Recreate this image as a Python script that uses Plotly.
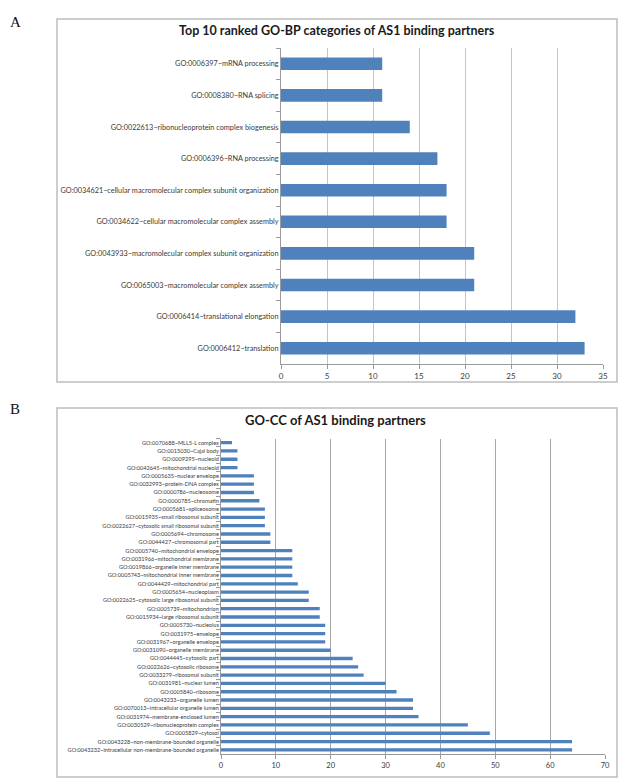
import plotly.graph_objects as go

W, H = 632, 782

# ---------------- data ----------------
bp_terms = [
    "GO:0006397~mRNA processing",
    "GO:0008380~RNA splicing",
    "GO:0022613~ribonucleoprotein complex biogenesis",
    "GO:0006396~RNA processing",
    "GO:0034621~cellular macromolecular complex subunit organization",
    "GO:0034622~cellular macromolecular complex assembly",
    "GO:0043933~macromolecular complex subunit organization",
    "GO:0065003~macromolecular complex assembly",
    "GO:0006414~translational elongation",
    "GO:0006412~translation",
]
bp_counts = [11, 11, 14, 17, 18, 18, 21, 21, 32, 33]

cc_terms = [
    "GO:0070688~MLL5-L complex",
    "GO:0015030~Cajal body",
    "GO:0009295~nucleoid",
    "GO:0042645~mitochondrial nucleoid",
    "GO:0005635~nuclear envelope",
    "GO:0032993~protein-DNA complex",
    "GO:0000786~nucleosome",
    "GO:0000785~chromatin",
    "GO:0005681~spliceosome",
    "GO:0015935~small ribosomal subunit",
    "GO:0022627~cytosolic small ribosomal subunit",
    "GO:0005694~chromosome",
    "GO:0044427~chromosomal part",
    "GO:0005740~mitochondrial envelope",
    "GO:0031966~mitochondrial membrane",
    "GO:0019866~organelle inner membrane",
    "GO:0005743~mitochondrial inner membrane",
    "GO:0044429~mitochondrial part",
    "GO:0005654~nucleoplasm",
    "GO:0022625~cytosolic large ribosomal subunit",
    "GO:0005739~mitochondrion",
    "GO:0015934~large ribosomal subunit",
    "GO:0005730~nucleolus",
    "GO:0031975~envelope",
    "GO:0031967~organelle envelope",
    "GO:0031090~organelle membrane",
    "GO:0044445~cytosolic part",
    "GO:0022626~cytosolic ribosome",
    "GO:0033279~ribosomal subunit",
    "GO:0031981~nuclear lumen",
    "GO:0005840~ribosome",
    "GO:0043233~organelle lumen",
    "GO:0070013~intracellular organelle lumen",
    "GO:0031974~membrane-enclosed lumen",
    "GO:0030529~ribonucleoprotein complex",
    "GO:0005829~cytosol",
    "GO:0043228~non-membrane-bounded organelle",
    "GO:0043232~intracellular non-membrane-bounded organelle",
]
cc_counts = [2, 3, 3, 3, 6, 6, 6, 7, 8, 8, 8, 9, 9, 13, 13, 13, 13, 14, 16, 16,
             18, 18, 19, 19, 19, 20, 24, 25, 26, 30, 32, 35, 35, 36, 45, 49, 64, 64]

bp_ticks = [0, 5, 10, 15, 20, 25, 30, 35]
cc_ticks = [0, 10, 20, 30, 40, 50, 60, 70]

# ---------------- styling ----------------
BAR = "#4F81BD"
TXT = "#3a3a3a"
FONT = "Lato"


def px(x):
    return x / W


def py(y):
    return 1 - y / H


fig = go.Figure()
fig.add_trace(go.Bar(x=bp_counts, y=bp_terms, orientation="h",
                     marker=dict(color=BAR, line=dict(width=0)),
                     xaxis="x", yaxis="y", hoverinfo="x+y"))
fig.add_trace(go.Bar(x=cc_counts, y=cc_terms, orientation="h",
                     marker=dict(color=BAR, line=dict(width=0)),
                     xaxis="x2", yaxis="y2", hoverinfo="x+y"))

common_x = dict(showgrid=True, gridwidth=1,
                zeroline=False, showline=True, linecolor="#9a9a9a", linewidth=1,
                ticks="outside", ticklen=4, tickcolor="#9a9a9a",
                automargin=False, fixedrange=True)
common_y = dict(type="category", autorange="reversed", showgrid=False,
                zeroline=False, showline=True, linecolor="#9a9a9a", linewidth=1,
                ticks="outside", ticklen=4, tickcolor="#9a9a9a",
                tickson="boundaries", automargin=False, fixedrange=True)

fig.update_layout(
    width=W, height=H,
    margin=dict(l=0, r=0, t=0, b=0),
    paper_bgcolor="white", plot_bgcolor="white",
    showlegend=False,
    bargap=0.6,
    font=dict(family=FONT, color=TXT),
    xaxis=dict(domain=[px(281), px(603)], anchor="y", range=[0, 35],
               tickvals=bp_ticks, gridcolor="#c4c4c4",
               tickfont=dict(size=8, color=TXT), **common_x),
    yaxis=dict(domain=[py(364), py(48)], anchor="x",
               tickfont=dict(size=7.3, color=TXT), **common_y),
    xaxis2=dict(domain=[px(221), px(605)], anchor="y2", range=[0, 70],
                tickvals=cc_ticks, gridcolor="#a8a8a8",
                tickfont=dict(size=7.5, color=TXT), **common_x),
    yaxis2=dict(domain=[py(754), py(438.5)], anchor="x2",
                tickfont=dict(size=5.6, color=TXT), **common_y),
)

# frames around each chart
fig.add_shape(type="rect", xref="paper", yref="paper",
              x0=px(57), x1=px(617), y0=py(382), y1=py(19),
              line=dict(color="#bdbdbd", width=1.5), layer="below")
fig.add_shape(type="rect", xref="paper", yref="paper",
              x0=px(57), x1=px(617), y0=py(777), y1=py(408),
              line=dict(color="#bdbdbd", width=1.5), layer="below")

# titles
fig.add_annotation(text="<b>Top 10 ranked GO-BP categories of AS1 binding partners</b>",
                   xref="paper", yref="paper", x=px(337), y=py(31),
                   showarrow=False, xanchor="center", yanchor="middle",
                   font=dict(family=FONT, size=12.5, color="#1a1a1a"))
fig.add_annotation(text="<b>GO-CC of AS1 binding partners</b>",
                   xref="paper", yref="paper", x=px(335), y=py(420),
                   showarrow=False, xanchor="center", yanchor="middle",
                   font=dict(family=FONT, size=13, color="#1a1a1a"))

# panel letters
fig.add_annotation(text="A", xref="paper", yref="paper", x=px(8), y=py(22),
                   showarrow=False, xanchor="left", yanchor="middle",
                   font=dict(family="Liberation Serif", size=15, color="#111"))
fig.add_annotation(text="B", xref="paper", yref="paper", x=px(8), y=py(409),
                   showarrow=False, xanchor="left", yanchor="middle",
                   font=dict(family="Liberation Serif", size=15, color="#111"))

fig.write_html("out.html",
               config={"displayModeBar": False},
               post_script="document.body.style.margin='0';document.body.style.overflow='hidden';")
